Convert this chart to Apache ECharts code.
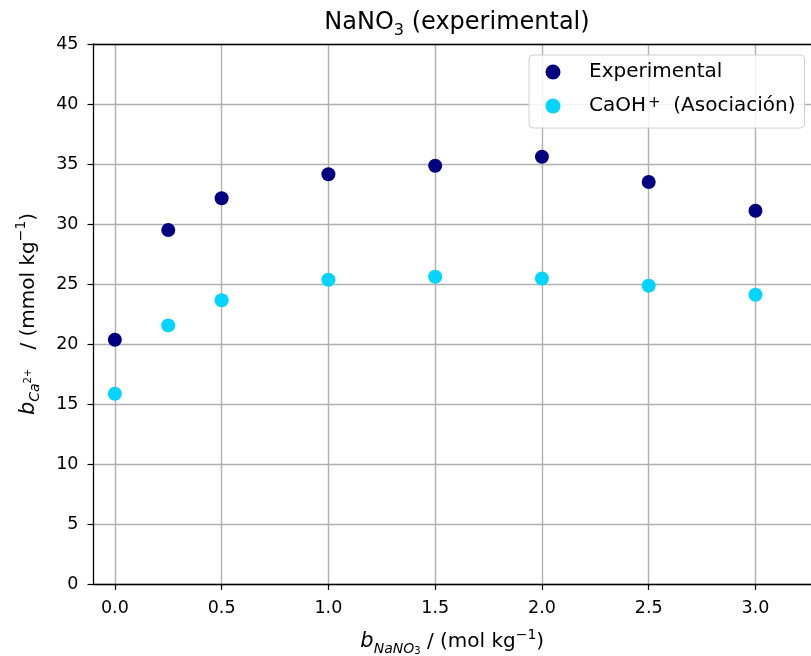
<!DOCTYPE html>
<html>
<head>
<meta charset="utf-8">
<script src="https://cdn.jsdelivr.net/npm/echarts@6/dist/echarts.min.js"></script>
<style>
  html, body { margin: 0; padding: 0; background: #fff; }
  #chart { width: 811px; height: 656px; }
</style>
</head>
<body>
<div id="chart"></div>
<script>
// NaNO3 molality (mol/kg)
const concentrations = [0.0, 0.25, 0.5, 1.0, 1.5, 2.0, 2.5, 3.0];
// Ca2+ molality (mmol/kg)
const experimental = [20.35, 29.5, 32.15, 34.15, 34.85, 35.6, 33.5, 31.1];
const caohAssociation = [15.85, 21.55, 23.65, 25.35, 25.6, 25.45, 24.85, 24.1];
const xTicks = [0.0, 0.5, 1.0, 1.5, 2.0, 2.5, 3.0];
const yTicks = [0, 5, 10, 15, 20, 25, 30, 35, 40, 45];

const FONT = 'DejaVu Sans';
const pairs = (xs, ys) => xs.map((x, i) => [x, ys[i]]);

const X_MIN = -0.1, X_MAX = 3.26;

const chart = echarts.init(document.getElementById('chart'), null, { renderer: 'canvas' });

chart.setOption({
  backgroundColor: '#ffffff',
  animation: false,
  textStyle: { fontFamily: FONT, color: '#000' },
  title: {
    text: 'NaNO{sub|3} (experimental)',
    left: 452,
    top: 2,
    textAlign: 'center',
    textStyle: {
      fontFamily: FONT, fontSize: 24, fontWeight: 'normal', color: '#000', lineHeight: 32,
      rich: {
        sub: { fontFamily: FONT, fontSize: 16, color: '#000', verticalAlign: 'bottom', lineHeight: 18 }
      }
    }
  },
  legend: {
    orient: 'vertical',
    left: 529,
    top: 55,
    padding: [7, 9, 12, 16.5],
    itemGap: 14,
    itemWidth: 62,
    itemHeight: 15,
    icon: 'circle',
    backgroundColor: 'rgba(255,255,255,0.85)',
    borderColor: '#d0d0d0',
    borderWidth: 1,
    borderRadius: 4,
    data: ['Experimental', 'CaOH+ (Asociación)'],
    formatter: function (name) {
      return name === 'CaOH+ (Asociación)' ? 'CaOH{sup|+}  (Asociación)' : name;
    },
    textStyle: {
      fontFamily: FONT, fontSize: 20, color: '#000', lineHeight: 20,
      rich: {
        sup: { fontFamily: FONT, fontSize: 15, color: '#000', verticalAlign: 'top', lineHeight: 14, padding: [0, 0, 0, 2] }
      }
    }
  },
  grid: {
    left: 93.5,
    right: 0,
    top: 44,
    height: 540,
    containLabel: false,
    outerBoundsMode: 'none'
  },
  xAxis: [
    {
      type: 'value',
      position: 'bottom',
      min: X_MIN,
      max: X_MAX,
      name: '{bi|b}{sub|NaNO}{sub3|3} / (mol kg{sup|−1})',
      nameLocation: 'middle',
      nameGap: 44,
      nameTextStyle: {
        fontFamily: FONT, fontSize: 20, color: '#000', lineHeight: 28,
        rich: {
          bi: { fontFamily: FONT, fontSize: 21, fontStyle: 'italic', color: '#000' },
          sub: { fontFamily: FONT, fontSize: 14, fontStyle: 'italic', color: '#000', verticalAlign: 'bottom', lineHeight: 14 },
          sub3: { fontFamily: FONT, fontSize: 10, color: '#000', verticalAlign: 'bottom', lineHeight: 10 },
          sup: { fontFamily: FONT, fontSize: 14, color: '#000', verticalAlign: 'top', lineHeight: 14 }
        }
      },
      axisLine: { show: true, onZero: false, lineStyle: { color: '#000', width: 1.3 } },
      axisTick: { show: true, length: 6, inside: false, customValues: xTicks, lineStyle: { color: '#000', width: 1.2 } },
      axisLabel: {
        show: true, customValues: xTicks, margin: 15,
        fontFamily: FONT, fontSize: 17.5, color: '#000',
        formatter: v => Number(v).toFixed(1)
      },
      splitLine: { show: true, lineStyle: { color: '#b0b0b0', width: 1.4 } }
    },
    {
      // top frame line of the plot area
      type: 'value',
      position: 'top',
      min: X_MIN,
      max: X_MAX,
      axisLine: { show: true, onZero: false, lineStyle: { color: '#000', width: 1.3 } },
      axisTick: { show: false },
      axisLabel: { show: false },
      splitLine: { show: false }
    }
  ],
  yAxis: {
    type: 'value',
    min: 0,
    max: 45,
    interval: 5,
    name: '{bi|b}{sub|Ca}{sup2|2+}   / (mmol kg{sup|−1})',
    nameLocation: 'middle',
    nameRotate: 90,
    nameGap: 51,
    nameTextStyle: {
      fontFamily: FONT, fontSize: 20, color: '#000', lineHeight: 28,
      rich: {
        bi: { fontFamily: FONT, fontSize: 21, fontStyle: 'italic', color: '#000' },
        sub: { fontFamily: FONT, fontSize: 14, fontStyle: 'italic', color: '#000', verticalAlign: 'bottom', lineHeight: 14 },
        sup2: { fontFamily: FONT, fontSize: 10, color: '#000', verticalAlign: 'middle', lineHeight: 12 },
        sup: { fontFamily: FONT, fontSize: 14, color: '#000', verticalAlign: 'top', lineHeight: 14 }
      }
    },
    axisLine: { show: true, onZero: false, lineStyle: { color: '#000', width: 1.3 } },
    axisTick: { show: true, length: 6, inside: false, lineStyle: { color: '#000', width: 1.2 } },
    axisLabel: {
      show: true, margin: 15, fontFamily: FONT, fontSize: 17.5, color: '#000',
      formatter: v => (yTicks.includes(v) ? String(v) : '')
    },
    splitLine: { show: true, lineStyle: { color: '#b0b0b0', width: 1.4 } }
  },
  series: [
    {
      name: 'Experimental',
      type: 'scatter',
      xAxisIndex: 0,
      symbol: 'circle',
      symbolSize: 14,
      itemStyle: { color: '#000080', opacity: 1 },
      data: pairs(concentrations, experimental),
      z: 3
    },
    {
      name: 'CaOH+ (Asociación)',
      type: 'scatter',
      xAxisIndex: 0,
      symbol: 'circle',
      symbolSize: 14,
      itemStyle: { color: '#00d4ff', opacity: 1 },
      data: pairs(concentrations, caohAssociation),
      z: 3
    }
  ]
});
</script>
</body>
</html>
